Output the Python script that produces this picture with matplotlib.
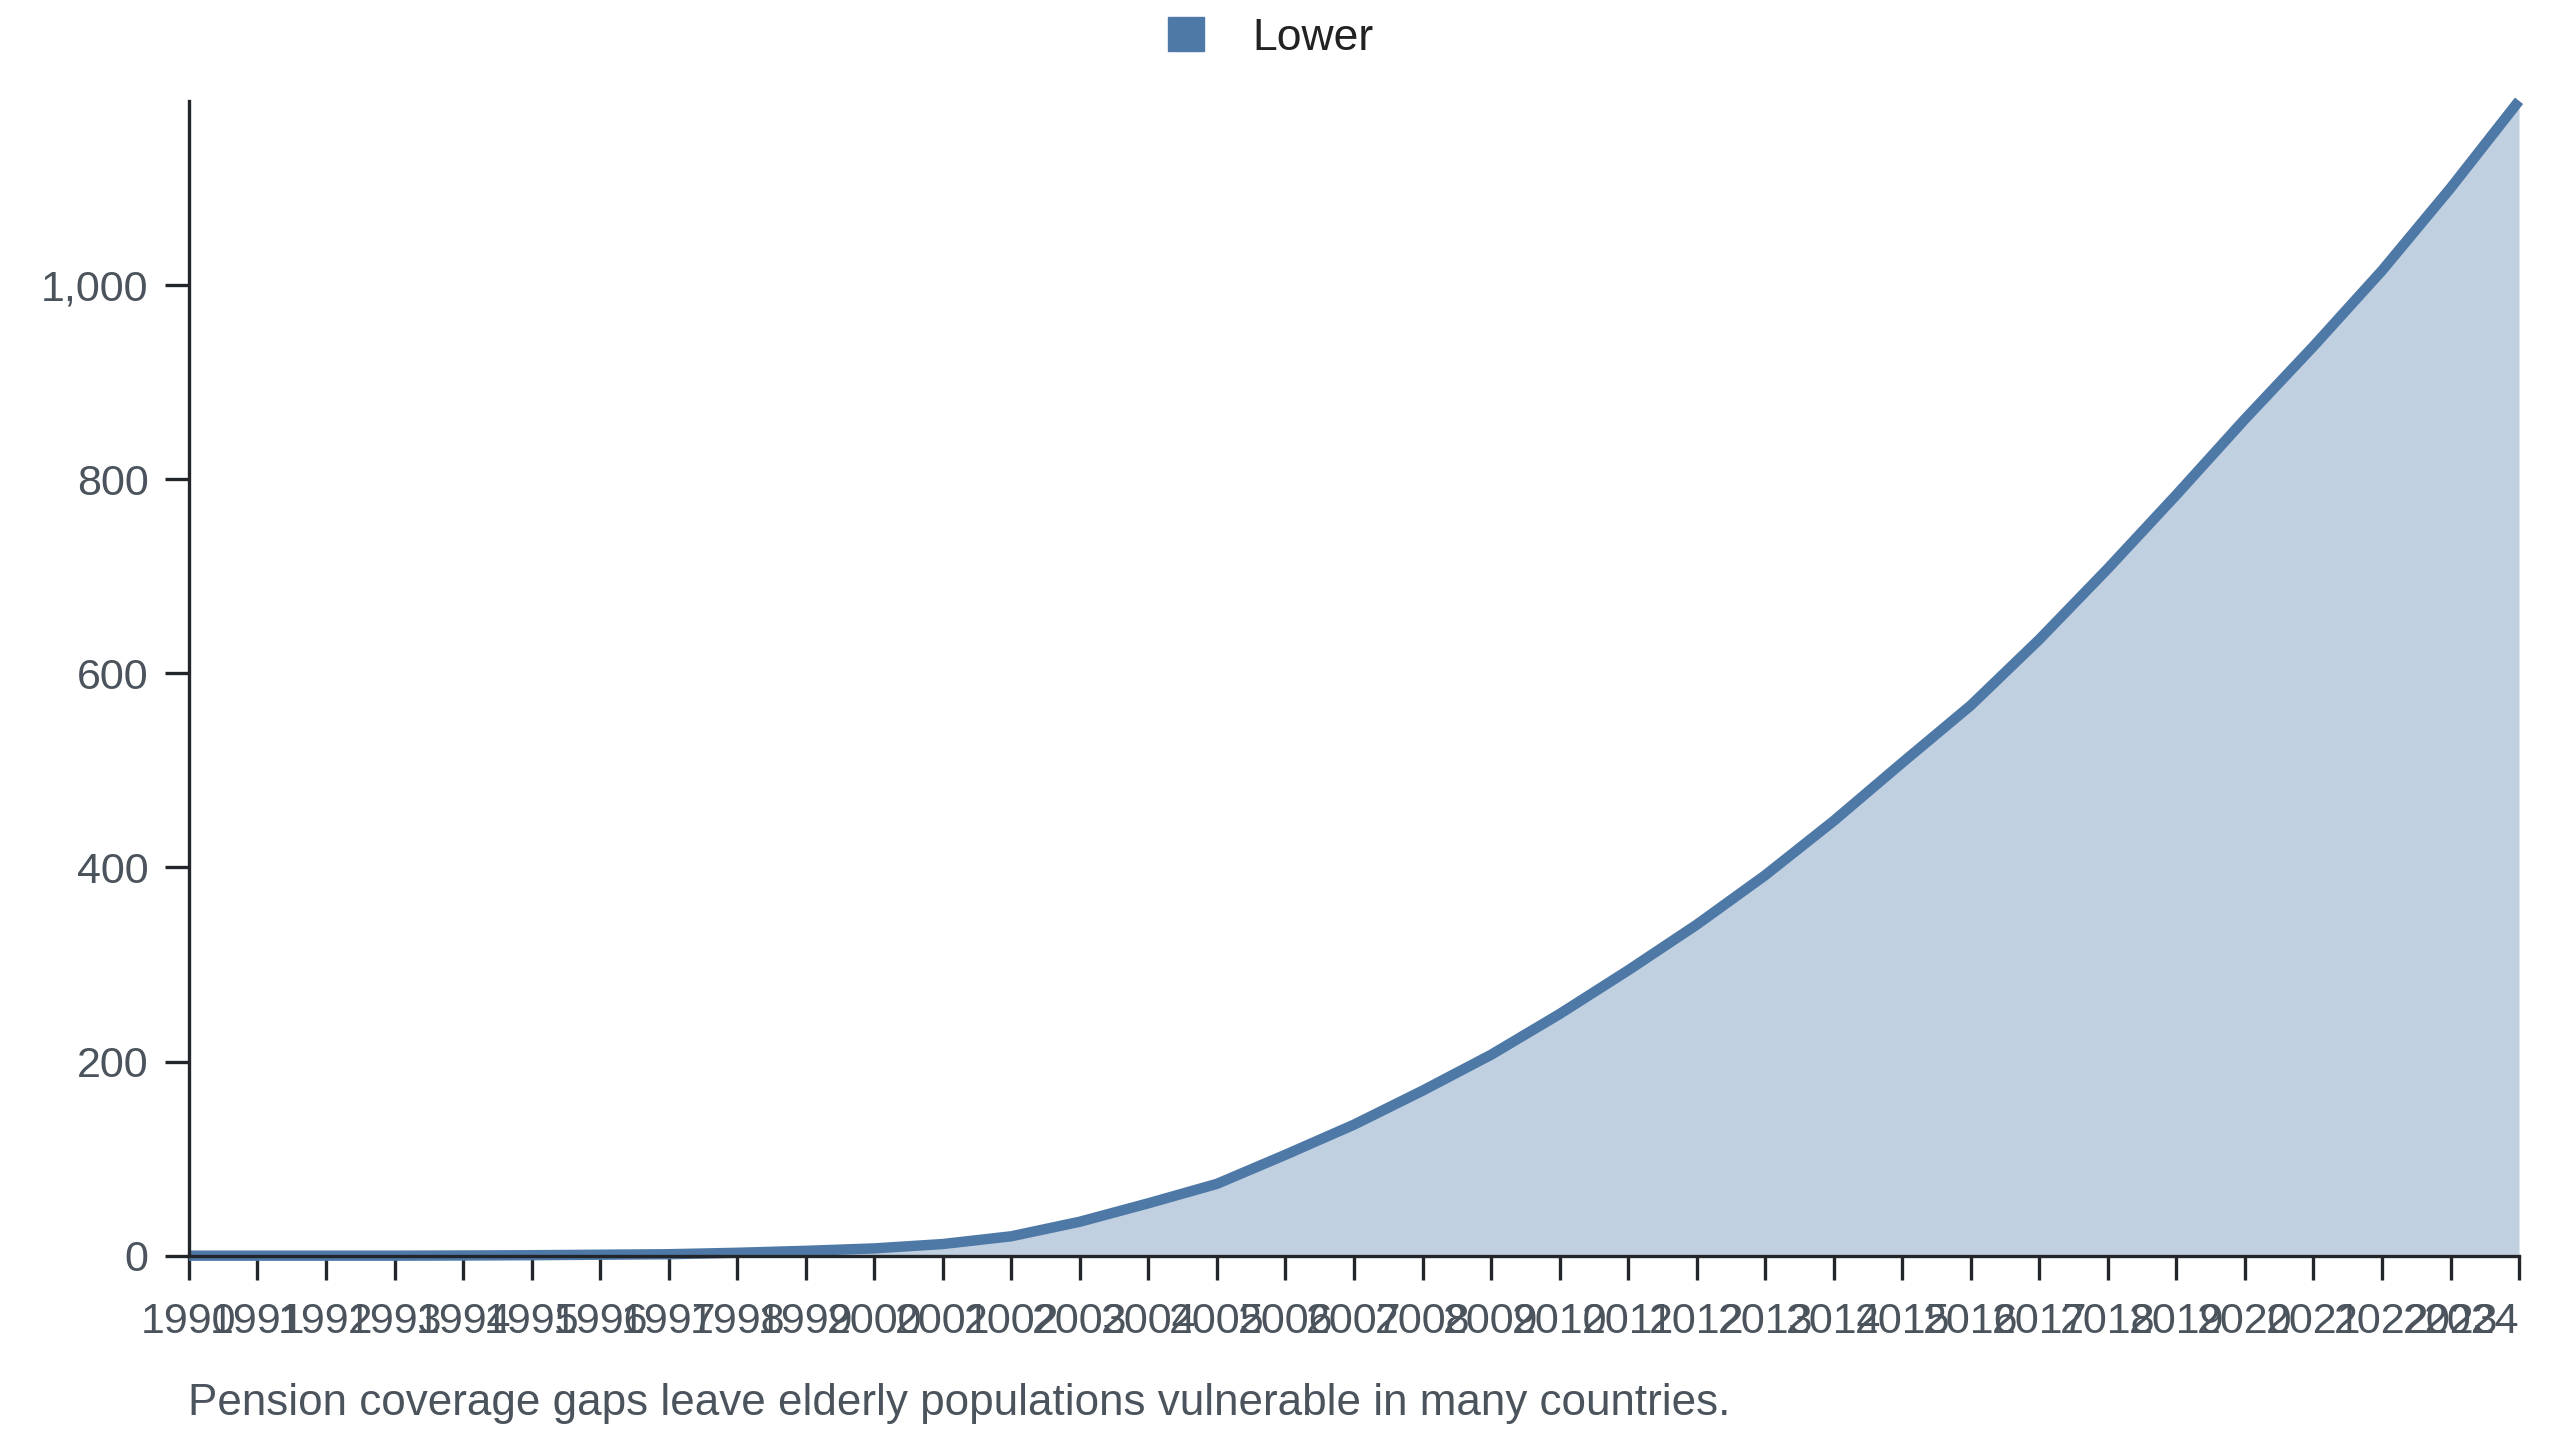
import matplotlib.pyplot as plt
import numpy as np
from matplotlib.patches import Patch
from matplotlib.ticker import FuncFormatter

plt.rcParams['font.family'] = ['Liberation Sans', 'DejaVu Sans']

# datos
years = list(range(1990, 2025))
lower = [0, 0, 0, 0, 0.2, 0.5, 1, 1.5, 3, 5, 7.5, 12, 20, 35, 54, 74,
         104, 135, 170, 207, 249, 294, 341, 392, 448, 508, 567, 635, 708,
         784, 862, 937, 1015, 1100, 1190]
series_name = "Lower"
caption = "Pension coverage gaps leave elderly populations vulnerable in many countries."

color = '#4e79a7'
tick_color = '#4b535c'
axis_color = '#22252a'

fig = plt.figure(figsize=(25.6, 14.4), dpi=100)
ax = fig.add_axes([0.0738, 0.128, 0.9102, 0.802])

ax.fill_between(years, lower, 0, color=color, alpha=0.35, linewidth=0)
ax.plot(years, lower, color=color, linewidth=7.5, solid_capstyle='butt', clip_on=False)

ax.set_xlim(years[0], years[-1])
ax.set_ylim(0, max(lower))
ax.set_xticks(years)
ax.set_xticklabels([str(y) for y in years])
ax.set_yticks([0, 200, 400, 600, 800, 1000])
ax.yaxis.set_major_formatter(FuncFormatter(lambda v, p: f"{int(v):,}"))

for s in ['top', 'right']:
    ax.spines[s].set_visible(False)
for s in ['left', 'bottom']:
    ax.spines[s].set_color(axis_color)
    ax.spines[s].set_linewidth(2.4)
    ax.spines[s].set_zorder(5)

ax.tick_params(axis='both', length=17, width=2.4, color=axis_color,
               labelsize=31, labelcolor=tick_color)
ax.tick_params(axis='x', pad=16)
ax.tick_params(axis='y', pad=12)

# la ultima etiqueta queda alineada a la derecha
ax.get_xticklabels()[-1].set_ha('right')

fig.text(0.0735, 1 - 1404 / 1440, caption, fontsize=31.7, color=tick_color,
         ha='left', va='center')

handle = Patch(facecolor=color, edgecolor=color)
fig.legend([handle], [series_name], loc='center', bbox_to_anchor=(0.4965, 1 - 38 / 1440),
           frameon=False, fontsize=32, labelcolor='#222222',
           handlelength=0.8, handleheight=0.8, handletextpad=1.1)

fig.savefig('out.png', dpi=100)
